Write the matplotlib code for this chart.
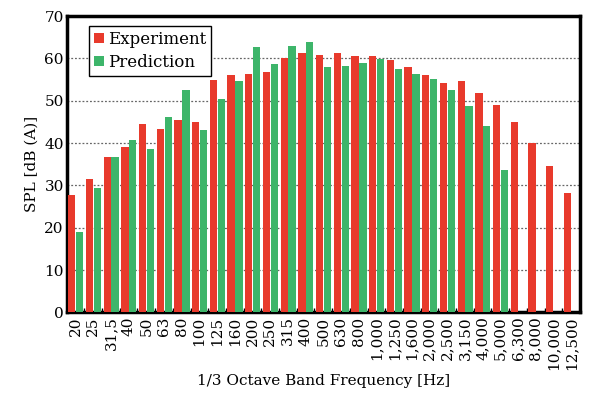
import numpy as np
import matplotlib.pyplot as plt

# bandes de 1/3 d'octava
bandes = ['20', '25', '31,5', '40', '50', '63', '80', '100', '125', '160',
          '200', '250', '315', '400', '500', '630', '800', '1,000', '1,250',
          '1,600', '2,000', '2,500', '3,150', '4,000', '5,000', '6,300',
          '8,000', '10,000', '12,500']

experiment = [27.8, 31.4, 36.6, 39.1, 44.6, 43.4, 45.4, 45.0, 54.9, 56.0,
              56.3, 56.7, 60.1, 61.4, 60.9, 61.4, 60.5, 60.5, 59.6, 57.9,
              56.0, 54.3, 54.6, 51.9, 49.0, 45.0, 39.9, 34.5, 28.3]
prediction = [19.0, 29.3, 36.6, 40.8, 38.5, 46.2, 52.5, 43.0, 50.4, 54.7,
              62.7, 58.6, 63.0, 63.9, 58.0, 58.1, 59.0, 59.8, 57.4, 56.3,
              55.2, 52.5, 48.7, 44.0, 33.6]

plt.rcParams['font.family'] = 'DejaVu Serif'

fig, ax = plt.subplots(figsize=(5.9, 4.03), dpi=100)
fig.subplots_adjust(left=0.113, right=0.983, top=0.96, bottom=0.225)

x = np.arange(len(bandes))
w = 0.41
ax.bar(x - 0.21, experiment, w, color='#e83a2c', label='Experiment', zorder=3)
ax.bar(x[:len(prediction)] + 0.235, prediction, w, color='#3db56a',
       label='Prediction', zorder=3)

ax.set_xlim(-0.5, len(bandes) - 0.5)
ax.set_ylim(0, 70)
ax.set_yticks(range(0, 71, 10))
ax.set_xticks(x)
ax.set_xticklabels(bandes, rotation=90, fontsize=11)
# marques entre bandes
ax.set_xticks(x[:-1] + 0.5, minor=True)
ax.tick_params(axis='y', labelsize=11, length=0, pad=2)
ax.tick_params(axis='x', which='major', length=0, pad=3)
ax.tick_params(axis='x', which='minor', length=3, width=1, direction='in')

for v in range(10, 70, 10):
    ax.axhline(v, color='#666666', lw=0.9, ls=(0, (1.5, 1.5)), zorder=1)

for s in ax.spines.values():
    s.set_linewidth(2.5)

ax.set_ylabel('SPL [dB (A)]', fontsize=11)
ax.set_xlabel('1/3 Octave Band Frequency [Hz]', fontsize=11, labelpad=3)

leg = ax.legend(loc='upper left', bbox_to_anchor=(0.028, 0.995), fontsize=12,
                handlelength=0.55, handleheight=0.55, handletextpad=0.25,
                borderpad=0.3, labelspacing=0.35, fancybox=False,
                edgecolor='black', framealpha=1)
leg.get_frame().set_linewidth(1.0)

fig.savefig('out.png')
